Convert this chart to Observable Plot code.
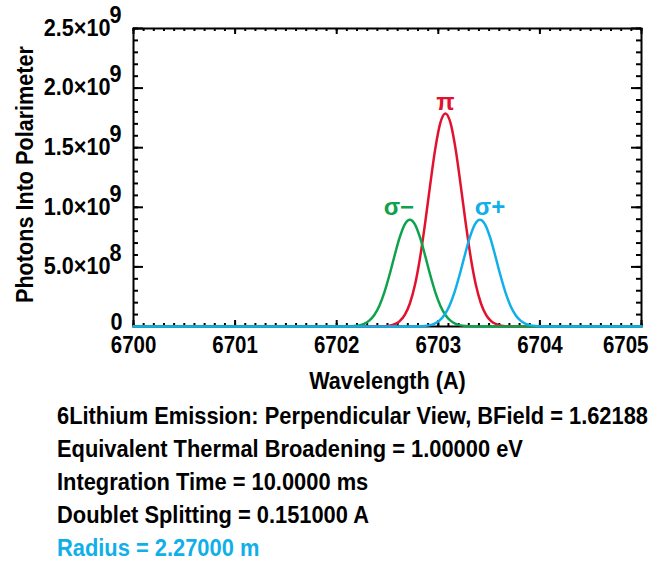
<!DOCTYPE html>
<html><head><meta charset="utf-8">
<script src="https://cdn.jsdelivr.net/npm/d3@7"></script>
<script src="https://cdn.jsdelivr.net/npm/@observablehq/plot@0.6"></script>
<style>
body{margin:0;background:#fff;}
#chart svg{display:block;}
.cap{font-family:"Liberation Sans",Arial,sans-serif;font-weight:bold;font-size:23px;line-height:33px;padding-left:57px;color:#000;white-space:nowrap}
.cap div{transform-origin:0 50%;width:max-content}
</style></head><body>
<div id="chart"></div>
<div class="cap" id="cap"></div>
<script>
// ---- data (photons in units of 1e9) ----
const sigmaMinusWavelength = [6700, 6702.02, 6702.07, 6702.12, 6702.17, 6702.22, 6702.27, 6702.32, 6702.37, 6702.42, 6702.47, 6702.52, 6702.57, 6702.62, 6702.67, 6702.72, 6702.77, 6702.82, 6702.87, 6702.92, 6702.97, 6703.02, 6703.07, 6703.12, 6703.17, 6703.22, 6703.27, 6703.32, 6703.37, 6703.42, 6705];
const sigmaMinusPhotons = [0, 0.0001, 0.0004, 0.0013, 0.0037, 0.0096, 0.0227, 0.0491, 0.0968, 0.175, 0.289, 0.434, 0.596, 0.747, 0.857, 0.896, 0.857, 0.747, 0.596, 0.434, 0.289, 0.175, 0.0968, 0.0491, 0.0227, 0.0096, 0.0037, 0.0013, 0.0004, 0.0001, 0];
const piWavelength = [6700, 6702.37, 6702.42, 6702.47, 6702.52, 6702.57, 6702.62, 6702.67, 6702.72, 6702.77, 6702.82, 6702.87, 6702.92, 6702.97, 6703.02, 6703.07, 6703.12, 6703.17, 6703.22, 6703.27, 6703.32, 6703.37, 6703.42, 6703.47, 6703.52, 6703.57, 6703.62, 6703.67, 6703.72, 6703.77, 6705];
const piPhotons = [0, 0.0002, 0.0009, 0.0027, 0.0073, 0.0191, 0.0452, 0.0979, 0.193, 0.348, 0.575, 0.865, 1.188, 1.490, 1.708, 1.787, 1.708, 1.490, 1.188, 0.865, 0.575, 0.348, 0.193, 0.0979, 0.0452, 0.0191, 0.0073, 0.0027, 0.0009, 0.0002, 0];
const sigmaPlusWavelength = [6700, 6702.71, 6702.76, 6702.81, 6702.86, 6702.91, 6702.96, 6703.01, 6703.06, 6703.11, 6703.16, 6703.21, 6703.26, 6703.31, 6703.36, 6703.41, 6703.46, 6703.51, 6703.56, 6703.61, 6703.66, 6703.71, 6703.76, 6703.81, 6703.86, 6703.91, 6703.96, 6704.01, 6704.06, 6704.11, 6705];
const sigmaPlusPhotons = [0, 0.0001, 0.0004, 0.0013, 0.0037, 0.0096, 0.0227, 0.0491, 0.0968, 0.175, 0.289, 0.434, 0.596, 0.747, 0.857, 0.896, 0.857, 0.747, 0.596, 0.434, 0.289, 0.175, 0.0968, 0.0491, 0.0227, 0.0096, 0.0037, 0.0013, 0.0004, 0.0001, 0];

const componentNames = ["σ−", "π", "σ+"];
const componentPeakWavelength = [6702.72, 6703.07, 6703.41];
const componentPeakPhotons = [0.896, 1.787, 0.896];

const xTickValues = [6700, 6701, 6702, 6703, 6704, 6705];
const xTickLabels = ["6700", "6701", "6702", "6703", "6704", "6705"];
const yTickValues = [0, 0.5, 1.0, 1.5, 2.0, 2.5];
const yTickMantissa = ["0", "5.0×10", "1.0×10", "1.5×10", "2.0×10", "2.5×10"];
const yTickExponent = ["", "8", "9", "9", "9", "9"];

const xLabel = "Wavelength (A)";
const yLabel = "Photons Into Polarimeter";
const captionLines = [
  "6Lithium Emission: Perpendicular View, BField = 1.62188",
  "Equivalent Thermal Broadening = 1.00000 eV",
  "Integration Time = 10.0000 ms",
  "Doublet Splitting = 0.151000 A",
  "Radius = 2.27000 m"
];

// ---- styling ----
const RED = "#e2122e", GREEN = "#0ea24c", BLUE = "#10afe9";
const FONT = '"Liberation Sans",Arial,sans-serif';
const W = 650, H = 400, ML = 133, MR = 9, MT = 28, MB = 74;
const PW = W - ML - MR, PH = H - MT - MB;

// horizontal squeeze factors (reference font is slightly condensed)
const probe = document.createElement("canvas").getContext("2d");
probe.font = 'bold 23px "Liberation Sans", Arial, sans-serif';
const SQ_CAP = 591 / probe.measureText(captionLines[0]).width;
const SQUEEZE = {xticks: 0.89, yticks: 0.94, xtitle: 0.94, ytitle: 0.94};

const toRows = (ws, vs) => ws.map((w, i) => ({w, v: vs[i]}));
const sigmaMinus = toRows(sigmaMinusWavelength, sigmaMinusPhotons);
const pi = toRows(piWavelength, piPhotons);
const sigmaPlus = toRows(sigmaPlusWavelength, sigmaPlusPhotons);

const xMinor = d3.range(6700, 6705.001, 0.1).map(d => +d.toFixed(1));
const yMinor = d3.range(0, 2.5001, 0.1).map(d => +d.toFixed(1));
const yTicks = yTickValues.map((v, i) => ({v, m: yTickMantissa[i], e: yTickExponent[i]}));
const xTicks = xTickValues.map((v, i) => ({v, t: xTickLabels[i], last: i === xTickValues.length - 1}));

const tickStyle = {stroke: "black", strokeWidth: 2};
const tag = name => ({ariaLabel: () => name});

const chart = Plot.plot({
  width: W, height: H,
  marginLeft: ML, marginRight: MR, marginTop: MT, marginBottom: MB,
  style: {fontFamily: FONT, fontWeight: "bold", fontSize: "23px", background: "white", color: "black"},
  x: {domain: [6700, 6705], axis: null},
  y: {domain: [0, 2.5], axis: null},
  marks: [
    Plot.frame({stroke: "black", strokeWidth: 2}),
    Plot.tickX(xMinor, {x: d => d, insetTop: PH - 3, ...tickStyle}),
    Plot.tickX(xMinor, {x: d => d, insetBottom: PH - 3, ...tickStyle}),
    Plot.tickX(xTickValues, {x: d => d, insetTop: PH - 6, ...tickStyle}),
    Plot.tickX(xTickValues, {x: d => d, insetBottom: PH - 6, ...tickStyle}),
    Plot.tickY(yMinor, {y: d => d, insetRight: PW - 5, ...tickStyle}),
    Plot.tickY(yMinor, {y: d => d, insetLeft: PW - 5, ...tickStyle}),
    Plot.tickY(yTickValues, {y: d => d, insetRight: PW - 10, ...tickStyle}),
    Plot.tickY(yTickValues, {y: d => d, insetLeft: PW - 10, ...tickStyle}),
    Plot.line(pi, {x: "w", y: "v", stroke: RED, strokeWidth: 2.5, curve: "monotone-x"}),
    Plot.line(sigmaMinus, {x: "w", y: "v", stroke: GREEN, strokeWidth: 2.5, curve: "monotone-x"}),
    Plot.line(sigmaPlus, {x: "w", y: "v", stroke: BLUE, strokeWidth: 2.5, curve: "monotone-x"}),
    Plot.text([0], {x: () => componentPeakWavelength[0], y: () => componentPeakPhotons[0], text: () => componentNames[0], fill: GREEN, dx: -11, dy: -12, fontSize: 24}),
    Plot.text([1], {x: () => componentPeakWavelength[1], y: () => componentPeakPhotons[1], text: () => componentNames[1], fill: RED, dx: 0, dy: -11, fontSize: 24}),
    Plot.text([2], {x: () => componentPeakWavelength[2], y: () => componentPeakPhotons[2], text: () => componentNames[2], fill: BLUE, dx: 10, dy: -12, fontSize: 24}),
    // x tick labels (the last one is pulled inside the window, as in the reference)
    Plot.text(xTicks, {x: "v", text: "t", filter: d => !d.last, frameAnchor: "bottom", dy: 19, lineAnchor: "middle", fill: "black", ...tag("xticks")}),
    Plot.text(xTicks, {x: "v", text: "t", filter: d => d.last, frameAnchor: "bottom", textAnchor: "end", dx: 7, dy: 19, lineAnchor: "middle", fill: "black", ...tag("xticks")}),
    // y tick labels with raised exponents
    Plot.text(yTicks, {y: "v", text: "m", frameAnchor: "left", textAnchor: "end", dx: -23, fill: "black", filter: d => d.e !== "", ...tag("yticks")}),
    Plot.text(yTicks, {y: "v", text: "m", frameAnchor: "left", textAnchor: "end", dx: -11, dy: -4, fill: "black", filter: d => d.e === "", ...tag("yticks")}),
    Plot.text(yTicks, {y: "v", text: "e", frameAnchor: "left", textAnchor: "end", dx: -12, dy: -13, fill: "black", filter: d => d.e !== "", ...tag("yticks")}),
    Plot.text([xLabel], {text: d => d, frameAnchor: "bottom", textAnchor: "middle", dy: 55, lineAnchor: "middle", fill: "black", ...tag("xtitle")}),
    Plot.text([yLabel], {text: d => d, frameAnchor: "left", textAnchor: "middle", dx: -108, dy: -3, rotate: -90, lineAnchor: "middle", fill: "black", ...tag("ytitle")})
  ]
});
// squeeze texts horizontally around their own anchor
Object.entries(SQUEEZE).forEach(([key, f]) => {
  chart.querySelectorAll(`text[aria-label="${key}"]`).forEach(t => {
    const tr = t.getAttribute("transform") || "";
    t.setAttribute("transform", tr + ` scale(${f},1)`);
  });
});
document.getElementById("chart").appendChild(chart);

const cap = document.getElementById("cap");
captionLines.forEach((t, i) => {
  const div = document.createElement("div");
  div.textContent = t;
  div.style.transform = `scaleX(${SQ_CAP})`;
  if (i === captionLines.length - 1) div.style.color = BLUE;
  cap.appendChild(div);
});
</script>
</body></html>
